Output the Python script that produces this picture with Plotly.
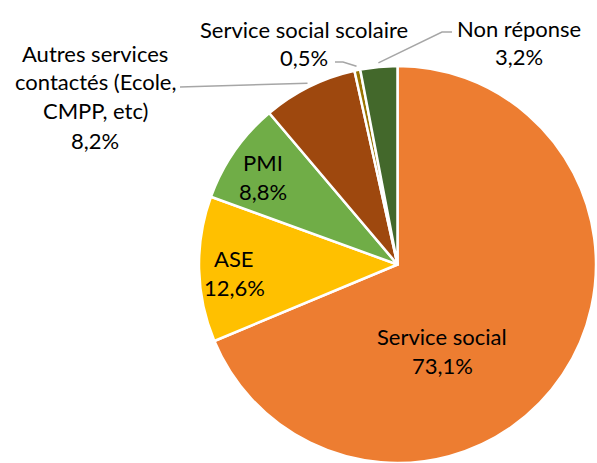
import math
import plotly.graph_objects as go

# Data
categories = [
    "Service social",
    "ASE",
    "PMI",
    "Autres services contactés (Ecole, CMPP, etc)",
    "Service social scolaire",
    "Non réponse",
]
values = [73.1, 12.6, 8.8, 8.2, 0.5, 3.2]
label_lines = [
    ["Service social"],
    ["ASE"],
    ["PMI"],
    ["Autres services", "contactés (Ecole,", "CMPP, etc)"],
    ["Service social scolaire"],
    ["Non réponse"],
]
colors = ["#ED7D31", "#FFC000", "#70AD47", "#9E480E", "#997300", "#43682B"]

W, H = 597, 463
FONT = "Lato"
FS = 22
LINE_H = 29

# Pie geometry (pixels)
dom_x = [198 / W, 1.0]
dom_y = [0.0, 397 / H]
R = min((dom_x[1] - dom_x[0]) * W, (dom_y[1] - dom_y[0]) * H) / 2
CX = (dom_x[0] + dom_x[1]) / 2 * W
CY = H - (dom_y[0] + dom_y[1]) / 2 * H

fig = go.Figure(
    go.Pie(
        labels=categories,
        values=values,
        sort=False,
        direction="clockwise",
        rotation=0,
        marker=dict(colors=colors, line=dict(color="white", width=2.5)),
        textinfo="none",
        hoverinfo="label+value",
        domain=dict(x=dom_x, y=dom_y),
        showlegend=False,
    )
)


def px(x, y):
    return x / W, 1 - y / H


def fmt(v):
    return f"{v:.1f}".replace(".", ",") + "%"


# Mid-angle of each slice (degrees clockwise from 12 o'clock)
total = sum(values)
mid_angles = []
acc = 0.0
for v in values:
    mid_angles.append((acc + v / 2) / total * 360)
    acc += v


def rim_point(i, k=1.02):
    a = math.radians(mid_angles[i])
    return CX + math.sin(a) * R * k, CY - math.cos(a) * R * k


# Label anchors (pixel centre of the first text line)
label_pos = [(442, 336), (234, 258), (263, 162), (95, 53), (304, 29), (519, 28)]

annotations = []
for i, (lines, (lx, ly)) in enumerate(zip(label_lines, label_pos)):
    texts = lines + [fmt(values[i])]
    for j, t in enumerate(texts):
        x, y = px(lx, ly + j * LINE_H)
        annotations.append(
            dict(
                x=x, y=y, xref="paper", yref="paper",
                text=t, showarrow=False,
                xanchor="center", yanchor="middle",
                font=dict(family=FONT, size=FS, color="#000000"),
            )
        )

# Leader lines for the outside labels
leader_ends = {
    3: [(180, 87)],
    4: [(343, 62), (335, 62)],
    5: [(442, 32), (452, 32)],
}
shapes = []
for i, pts in leader_ends.items():
    sx, sy = rim_point(i)
    path_pts = [(sx, sy)] + pts
    p = []
    for k, (x, y) in enumerate(path_pts):
        xp, yp = px(x, y)
        p.append(("M" if k == 0 else "L") + f" {xp:.5f} {yp:.5f}")
    shapes.append(
        dict(type="path", xref="paper", yref="paper", path=" ".join(p),
             line=dict(color="#A6A6A6", width=1.5))
    )

fig.update_layout(
    width=W,
    height=H,
    margin=dict(l=0, r=0, t=0, b=0),
    paper_bgcolor="white",
    plot_bgcolor="white",
    annotations=annotations,
    shapes=shapes,
)

fig.write_html("out.html")
